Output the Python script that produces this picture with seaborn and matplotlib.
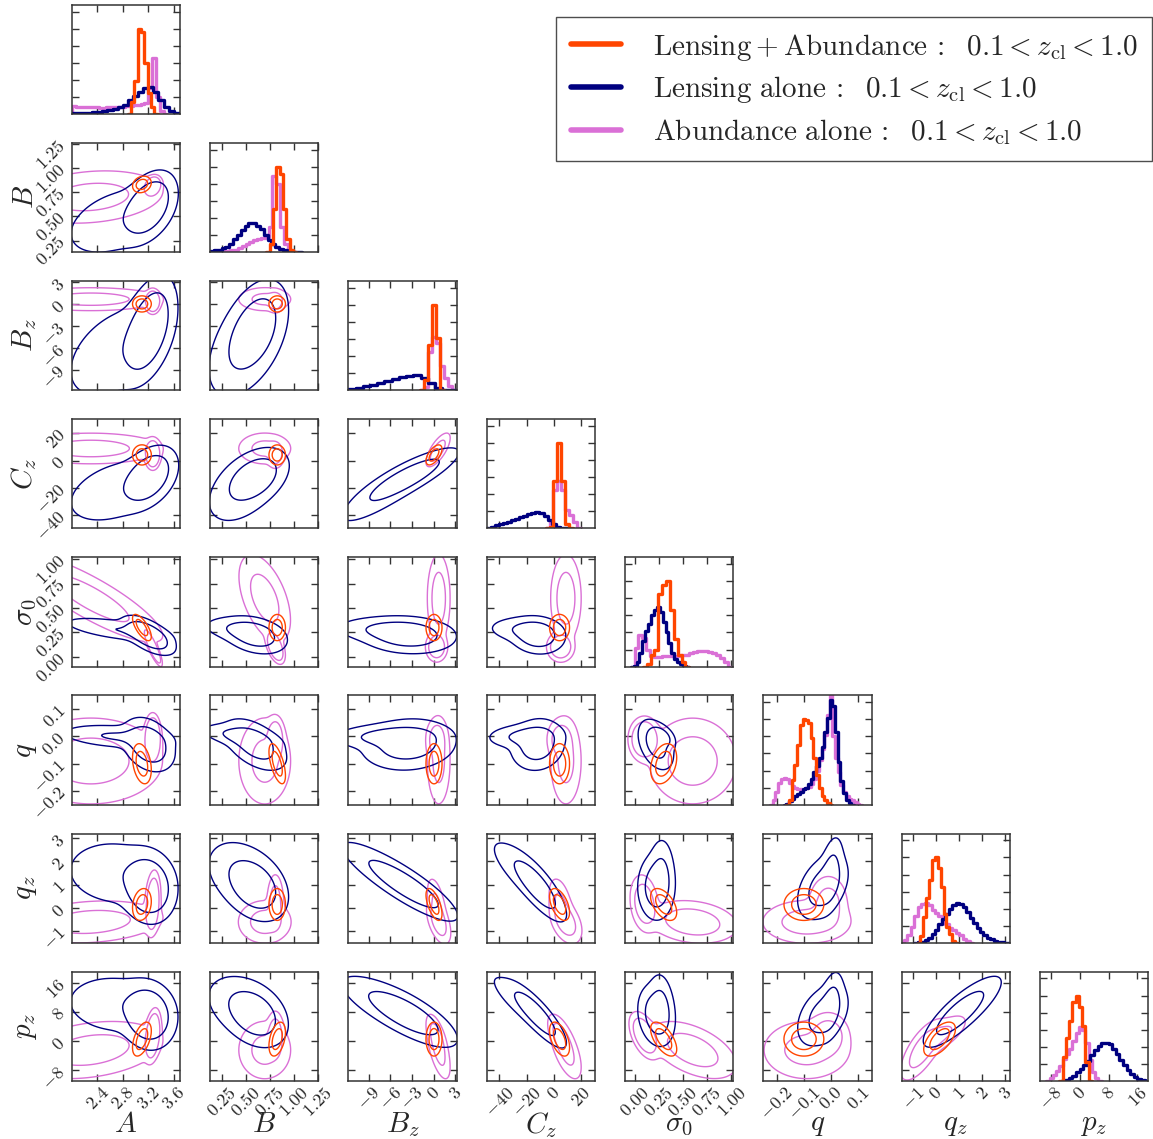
import numpy as np
import pandas as pd
import matplotlib
matplotlib.use("Agg")
import matplotlib.pyplot as plt
import seaborn as sns
from matplotlib.lines import Line2D

sns.set_theme(style="white")
plt.rcParams["font.family"] = ["DejaVu Serif"]
plt.rcParams["mathtext.fontset"] = "cm"

# ---------------- parameters / axes ----------------
params = ["A", "B", "Bz", "Cz", "s0", "q", "qz", "pz"]
param_labels = [r"$A$", r"$B$", r"$B_z$", r"$C_z$", r"$\sigma_0$", r"$q$", r"$q_z$", r"$p_z$"]
axis_lo = [2.0, 0.13, -11.8, -49.5, -0.1, -0.25, -1.5, -11.0]
axis_hi = [3.7, 1.26, 3.2, 30.5, 1.02, 0.15, 3.2, 19.0]
tick_vals = [[2.4, 2.8, 3.2, 3.6], [0.25, 0.5, 0.75, 1.0, 1.25], [-9, -6, -3, 0, 3],
             [-40, -20, 0, 20], [0.0, 0.25, 0.5, 0.75, 1.0], [-0.2, -0.1, 0.0, 0.1],
             [-1, 0, 1, 2, 3], [-8, 0, 8, 16]]
tick_text = [["2.4", "2.8", "3.2", "3.6"], ["0.25", "0.50", "0.75", "1.00", "1.25"],
             ["-9", "-6", "-3", "0", "3"], ["-40", "-20", "0", "20"],
             ["0.00", "0.25", "0.50", "0.75", "1.00"], ["-0.2", "-0.1", "0.0", "0.1"],
             ["-1", "0", "1", "2", "3"], ["-8", "0", "8", "16"]]

datasets = ["lens_abund", "lens", "abund"]
colors = {"lens_abund": "#FF4500", "lens": "#000080", "abund": "#DA70D6"}
legend_text = [r"$\mathrm{Lensing} + \mathrm{Abundance}\,:\ \ 0.1 < z_{\mathrm{cl}} < 1.0$",
               r"$\mathrm{Lensing\ alone}\,:\ \ 0.1 < z_{\mathrm{cl}} < 1.0$",
               r"$\mathrm{Abundance\ alone}\,:\ \ 0.1 < z_{\mathrm{cl}} < 1.0$"]

# ---------------- 1D histograms: (first edge, bin width, heights) ----------------
hA_lens_abund = (2.93, 0.052, [0.14, 0.39, 1.0, 0.96, 0.6, 0.25, 0.08])
hA_lens = (2.0, 0.08, [0.01, 0.012, 0.015, 0.018, 0.02, 0.025, 0.035, 0.045, 0.06, 0.08, 0.11,
                       0.16, 0.21, 0.26, 0.30, 0.32, 0.26, 0.16, 0.08, 0.03, 0.01])
hA_abund = (2.0, 0.06, [0.09, 0.088, 0.085, 0.083, 0.08, 0.078, 0.077, 0.076, 0.076, 0.077, 0.078,
                        0.08, 0.082, 0.085, 0.09, 0.095, 0.1, 0.11, 0.12, 0.13, 0.3, 0.66, 0.2, 0.04])

hB_lens_abund = (0.75, 0.035, [0.1, 0.5, 1.0, 0.92, 0.5, 0.15, 0.02])
hB_lens = (0.13, 0.04, [0.01, 0.02, 0.03, 0.05, 0.06, 0.1, 0.15, 0.2, 0.26, 0.31, 0.34, 0.34, 0.31,
                        0.27, 0.2, 0.14, 0.09, 0.06, 0.035, 0.02, 0.01, 0.005, 0.003])
hB_abund = (0.26, 0.04, [0.01, 0.015, 0.02, 0.03, 0.05, 0.07, 0.1, 0.12, 0.14, 0.16, 0.17, 0.18,
                         0.3, 0.89, 0.8, 0.3, 0.1, 0.02])

hBz_lens_abund = (-1.3, 0.55, [0.12, 0.53, 1.0, 0.61])
hBz_lens = (-11.8, 1.0, [0.012, 0.028, 0.045, 0.065, 0.085, 0.105, 0.13, 0.155, 0.172, 0.18,
                         0.14, 0.085, 0.025, 0.003])
hBz_abund = (-1.3, 0.55, [0.04, 0.45, 0.62, 0.55, 0.28, 0.15, 0.05])

hCz_lens_abund = (-3.1, 2.9, [0.02, 0.56, 1.0, 0.56, 0.05])
hCz_lens = (-49.5, 3.0, [0.01, 0.02, 0.035, 0.05, 0.065, 0.08, 0.1, 0.115, 0.13, 0.15, 0.17, 0.185,
                         0.19, 0.18, 0.15, 0.1, 0.05, 0.015, 0.003])
hCz_abund = (-3.1, 2.9, [0.07, 0.45, 0.56, 0.45, 0.22, 0.16, 0.07])

hs0_lens_abund = (0.125, 0.04, [0.03, 0.14, 0.2, 0.85, 0.95, 1.0, 0.66, 0.32, 0.14, 0.05])
hs0_lens = (-0.01, 0.03, [0.01, 0.05, 0.16, 0.3, 0.42, 0.5, 0.6, 0.66, 0.7, 0.64, 0.52, 0.4, 0.28,
                          0.16, 0.09, 0.05, 0.03, 0.01])
hs0_abund = (0.0, 0.04, [0.22, 0.37, 0.33, 0.2, 0.12, 0.11, 0.11, 0.12, 0.12, 0.12, 0.12, 0.12, 0.13,
                         0.14, 0.16, 0.17, 0.18, 0.18, 0.18, 0.17, 0.16, 0.14, 0.1, 0.05])

hq_lens_abund = (-0.155, 0.01, [0.05, 0.29, 0.46, 0.7, 0.93, 1.0, 0.99, 0.96, 0.78, 0.55, 0.35, 0.2,
                                0.1, 0.05, 0.02])
hq_lens = (-0.165, 0.01, [0.01, 0.04, 0.07, 0.1, 0.12, 0.15, 0.18, 0.2, 0.24, 0.3, 0.38, 0.45, 0.55,
                          0.68, 0.85, 1.02, 1.22, 1.15, 0.85, 0.5, 0.28, 0.14, 0.05, 0.02])
hq_abund = (-0.215, 0.01, [0.05, 0.15, 0.26, 0.3, 0.31, 0.3, 0.25, 0.22, 0.2, 0.18, 0.18, 0.19, 0.2,
                           0.21, 0.24, 0.3, 0.4, 0.52, 0.65, 0.82, 1.05, 1.3, 0.8, 0.55, 0.38, 0.23,
                           0.15, 0.1, 0.07, 0.05, 0.03, 0.01])

hqz_lens_abund = (-0.68, 0.125, [0.08, 0.3, 0.52, 0.74, 0.97, 1.0, 0.88, 0.65, 0.34, 0.19, 0.1, 0.02])
hqz_lens = (-0.8, 0.15, [0.005, 0.015, 0.035, 0.06, 0.1, 0.15, 0.22, 0.28, 0.34, 0.4, 0.44, 0.47, 0.46,
                         0.42, 0.36, 0.29, 0.23, 0.18, 0.13, 0.09, 0.06, 0.04, 0.025, 0.015, 0.008, 0.004])
hqz_abund = (-1.4, 0.15, [0.03, 0.09, 0.19, 0.32, 0.42, 0.46, 0.47, 0.44, 0.39, 0.35, 0.32, 0.26, 0.22,
                          0.18, 0.15, 0.11, 0.09, 0.05, 0.02])

hpz_lens_abund = (-4.7, 0.9, [0.28, 0.5, 0.7, 0.93, 1.0, 0.87, 0.64, 0.22])
hpz_lens = (-4.0, 1.0, [0.01, 0.03, 0.06, 0.1, 0.14, 0.19, 0.24, 0.3, 0.36, 0.41, 0.44, 0.45, 0.43,
                        0.38, 0.32, 0.25, 0.19, 0.13, 0.08, 0.05, 0.025, 0.01])
hpz_abund = (-8.3, 0.9, [0.03, 0.07, 0.12, 0.18, 0.26, 0.32, 0.38, 0.47, 0.56, 0.63, 0.6, 0.45, 0.25,
                         0.1, 0.03])

hists = {
    "A": {"lens_abund": hA_lens_abund, "lens": hA_lens, "abund": hA_abund},
    "B": {"lens_abund": hB_lens_abund, "lens": hB_lens, "abund": hB_abund},
    "Bz": {"lens_abund": hBz_lens_abund, "lens": hBz_lens, "abund": hBz_abund},
    "Cz": {"lens_abund": hCz_lens_abund, "lens": hCz_lens, "abund": hCz_abund},
    "s0": {"lens_abund": hs0_lens_abund, "lens": hs0_lens, "abund": hs0_abund},
    "q": {"lens_abund": hq_lens_abund, "lens": hq_lens, "abund": hq_abund},
    "qz": {"lens_abund": hqz_lens_abund, "lens": hqz_lens, "abund": hqz_abund},
    "pz": {"lens_abund": hpz_lens_abund, "lens": hpz_lens, "abund": hpz_abund},
}

# ---------------- 2D posterior shapes (Gaussian components) -------------
#                     A     B     Bz    Cz    s0    q      qz    pz
lens_abund_mean = [3.10, 0.83, 0.05, 4.3, 0.30, -0.10, 0.15, 0.5]
lens_abund_sd = [0.06, 0.035, 0.45, 3.0, 0.055, 0.03, 0.28, 1.9]
lens_abund_corr = {("A", "B"): 0.2, ("A", "s0"): -0.7, ("A", "q"): -0.3, ("A", "qz"): 0.2,
                   ("A", "pz"): 0.5, ("B", "q"): -0.6, ("B", "pz"): 0.4, ("Bz", "Cz"): 0.6,
                   ("Bz", "qz"): -0.6, ("Cz", "qz"): -0.5, ("Cz", "pz"): -0.5, ("s0", "q"): 0.3,
                   ("s0", "qz"): -0.5, ("s0", "pz"): -0.6, ("qz", "pz"): 0.6}

lens_main_mean = [3.2, 0.6, -3.5, -12.0, 0.22, -0.03, 0.9, 7.0]
lens_main_sd = [0.17, 0.14, 2.8, 8.5, 0.08, 0.04, 0.6, 3.6]
lens_tail_mean = [2.7, 0.45, -6.5, -22.0, 0.28, 0.0, 1.5, 10.0]
lens_tail_sd = [0.4, 0.18, 3.3, 12.0, 0.06, 0.02, 0.7, 4.0]
lens_weights = [0.72, 0.28]
lens_corr = {("A", "B"): 0.4, ("A", "Bz"): 0.45, ("A", "Cz"): 0.4, ("A", "s0"): -0.6, ("A", "q"): -0.3,
             ("A", "qz"): -0.1, ("A", "pz"): -0.1, ("B", "Bz"): 0.4, ("B", "Cz"): 0.4, ("B", "s0"): -0.3,
             ("B", "q"): -0.5, ("B", "qz"): -0.3, ("B", "pz"): -0.3, ("Bz", "Cz"): 0.85, ("Bz", "s0"): -0.1,
             ("Bz", "q"): 0.1, ("Bz", "qz"): -0.85, ("Bz", "pz"): -0.75, ("Cz", "s0"): -0.1,
             ("Cz", "q"): 0.1, ("Cz", "qz"): -0.8, ("Cz", "pz"): -0.85, ("s0", "q"): -0.4,
             ("s0", "pz"): -0.2, ("q", "qz"): 0.4, ("q", "pz"): 0.4, ("qz", "pz"): 0.8}

abund_peak_mean = [3.27, 0.81, 0.4, 5.0, 0.10, -0.01, 0.2, 1.5]
abund_peak_sd = [0.045, 0.035, 0.6, 4.0, 0.06, 0.03, 0.5, 2.5]
abund_wide_mean = [2.3, 0.70, 0.7, 9.0, 0.60, -0.09, -0.6, -2.5]
abund_wide_sd = [0.5, 0.12, 0.7, 5.0, 0.2, 0.07, 0.4, 3.5]
abund_weights = [0.35, 0.65]
abund_corr = {("A", "s0"): -0.85, ("A", "B"): 0.2, ("B", "s0"): -0.5, ("Bz", "Cz"): 0.7,
              ("Bz", "qz"): -0.5, ("Bz", "pz"): -0.6, ("Cz", "qz"): -0.4, ("Cz", "pz"): -0.6,
              ("qz", "pz"): 0.7, ("s0", "pz"): -0.5, ("s0", "qz"): -0.2, ("A", "qz"): 0.2,
              ("A", "pz"): 0.3}

components = {
    "lens_abund": [(1.0, lens_abund_mean, lens_abund_sd, lens_abund_corr)],
    "lens": [(lens_weights[0], lens_main_mean, lens_main_sd, lens_corr),
             (lens_weights[1], lens_tail_mean, lens_tail_sd, lens_corr)],
    "abund": [(abund_weights[0], abund_peak_mean, abund_peak_sd, abund_corr),
              (abund_weights[1], abund_wide_mean, abund_wide_sd, abund_corr)],
}
levels_mass = [0.68, 0.95]
draw_order = ["abund", "lens", "lens_abund"]


def density2d(comps, ix, iy, X, Y):
    Z = np.zeros_like(X)
    for w, m, s, corr in comps:
        r = corr.get((params[ix], params[iy]), corr.get((params[iy], params[ix]), 0.0))
        sx, sy = s[ix], s[iy]
        dx = (X - m[ix]) / sx
        dy = (Y - m[iy]) / sy
        det = 1.0 - r * r
        Z += w / (2 * np.pi * sx * sy * np.sqrt(det)) * np.exp(-(dx * dx - 2 * r * dx * dy + dy * dy) / (2 * det))
    return Z


def mass_levels(Z):
    z = np.sort(Z.ravel())[::-1]
    cs = np.cumsum(z)
    cs /= cs[-1]
    return sorted(z[np.searchsorted(cs, lv)] for lv in levels_mass)


# ---------------- figure ----------------
fig, axes = plt.subplots(8, 8, figsize=(11.53, 11.39), dpi=100)
fig.subplots_adjust(left=0.0622, right=0.9959, bottom=0.0509, top=0.9959, wspace=0.275, hspace=0.263)

n = len(params)
for i in range(n):
    for j in range(n):
        ax = axes[i, j]
        if j > i:
            ax.set_visible(False)
            continue
        if i == j:
            p = params[i]
            for d in draw_order:
                start, width, h = hists[p][d]
                h = [0.0] + list(h) + [0.0]
                edges = [start - width + width * k for k in range(len(h) + 1)]
                centers = [0.5 * (edges[k] + edges[k + 1]) for k in range(len(h))]
                frame = pd.DataFrame({"value": centers, "height": h})
                sns.histplot(data=frame, x="value", weights="height", bins=edges, element="step",
                             fill=False, color=colors[d], linewidth=2.4, ax=ax)
            ax.set_ylim(0, 1.28)
            ax.set_yticks(np.arange(0.2, 1.21, 0.2))
            ax.set_yticklabels([])
            ax.set_ylabel("")
        else:
            lx0, lx1 = axis_lo[j], axis_hi[j]
            ly0, ly1 = axis_lo[i], axis_hi[i]
            sx = lx1 - lx0
            sy = ly1 - ly0
            gx = np.linspace(lx0 - 0.8 * sx, lx1 + 0.8 * sx, 360)
            gy = np.linspace(ly0 - 0.8 * sy, ly1 + 0.8 * sy, 360)
            X, Y = np.meshgrid(gx, gy)
            for d in draw_order:
                Z = density2d(components[d], j, i, X, Y)
                lv = mass_levels(Z)
                ax.contour(X, Y, Z, levels=lv, colors=colors[d], linewidths=1.0)
            ax.set_ylim(axis_lo[i], axis_hi[i])
            ax.set_yticks(tick_vals[i])
            if j == 0:
                ax.set_yticklabels(["$%s$" % t for t in tick_text[i]], rotation=45, fontsize=13)
                ax.set_ylabel(param_labels[i], fontsize=21)
                ax.yaxis.set_label_coords(-0.30, 0.5)
            else:
                ax.set_yticklabels([])
        ax.set_xlim(axis_lo[j], axis_hi[j])
        ax.set_xticks(tick_vals[j])
        if i == n - 1:
            ax.set_xticklabels(["$%s$" % t for t in tick_text[j]], rotation=45, fontsize=13)
            ax.set_xlabel(param_labels[j], fontsize=21)
            ax.xaxis.set_label_coords(0.5, -0.265)
        else:
            ax.set_xticklabels([])
            ax.set_xlabel("")
        ax.tick_params(direction="in", top=True, right=True, bottom=True, left=True,
                       length=5, width=1, color="#333333", pad=2)
        for sp in ax.spines.values():
            sp.set_color("#333333")
            sp.set_linewidth(1.1)

handles = [Line2D([0], [0], color=colors[d], lw=4) for d in datasets]
leg = fig.legend(handles, legend_text, loc="upper right", bbox_to_anchor=(1152 / 1153, 1 - 17 / 1139),
                 fontsize=21, frameon=True, fancybox=False, edgecolor="#222222", borderaxespad=0.0,
                 handlelength=1.7, labelspacing=0.4, borderpad=0.5, handletextpad=1.1)
leg.get_frame().set_linewidth(1.0)

fig.savefig("out.png", dpi=100, facecolor="white")
